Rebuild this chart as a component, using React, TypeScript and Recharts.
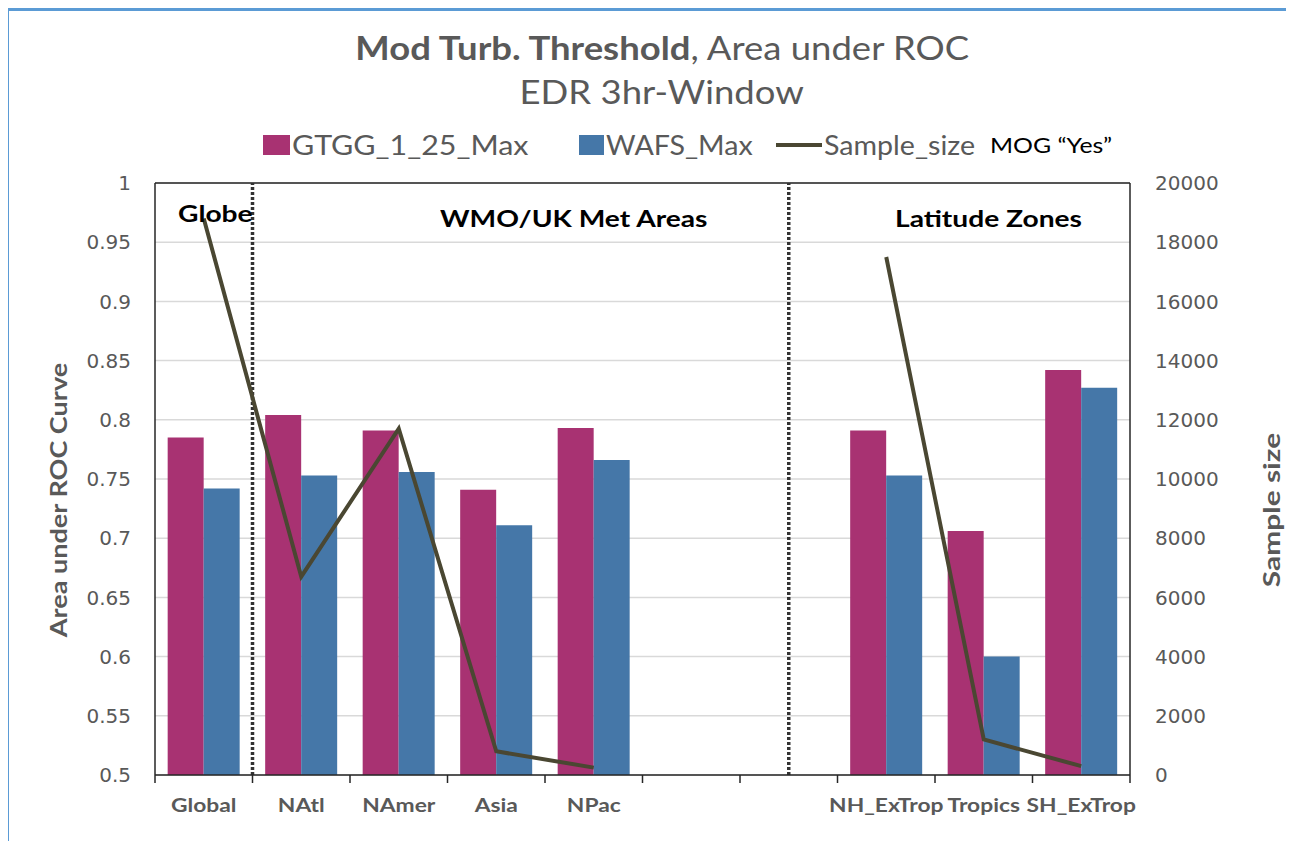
import { ComposedChart, Bar, Line, XAxis, YAxis, CartesianGrid, ReferenceLine } from 'recharts'

const categories = ['Global', 'NAtl', 'NAmer', 'Asia', 'NPac', 'gapA', 'gapB', 'NH_ExTrop', 'Tropics', 'SH_ExTrop']
const gtggMax = [0.785, 0.804, 0.791, 0.741, 0.793, null, null, 0.791, 0.706, 0.842]
const wafsMax = [0.742, 0.753, 0.756, 0.711, 0.766, null, null, 0.753, 0.6, 0.827]
const sampleSize = [18800, 6700, 11700, 800, 250, null, null, 17500, 1200, 300]

const leftTicks = [0.5, 0.55, 0.6, 0.65, 0.7, 0.75, 0.8, 0.85, 0.9, 0.95, 1]
const rightTicks = [0, 2000, 4000, 6000, 8000, 10000, 12000, 14000, 16000, 18000, 20000]

const data = categories.map((name, i) => ({
  name,
  gtgg: gtggMax[i],
  wafs: wafsMax[i],
  sample: sampleSize[i],
}))

const PINK = '#a83272'
const BLUE = '#4577a8'
const LINE = '#4a4732'
const GREY = '#595959'
const BORDER = '#262626'

const W = 1286
const H = 833
const TICK_SIZE = 8
const TICK_MARGIN = 13

function CategoryTick(props: any) {
  const { x, y, payload, index } = props
  const half = payload?.offset ?? 48.75
  const axisY = y - TICK_SIZE - TICK_MARGIN
  const label = String(payload.value).startsWith('gap') ? '' : payload.value
  return (
    <g>
      <line x1={x - half} x2={x - half} y1={axisY} y2={axisY + TICK_SIZE} stroke={BORDER} strokeWidth={1.5} />
      {index === categories.length - 1 && (
        <line x1={x + half} x2={x + half} y1={axisY} y2={axisY + TICK_SIZE} stroke={BORDER} strokeWidth={1.5} />
      )}
      <text
        transform={`translate(${x},${y}) scale(1.2,1)`}
        dy="0.85em"
        textAnchor="middle"
        fill={GREY}
        fontSize={19}
        fontWeight="bold"
        fontFamily="Lato"
      >
        {label}
      </text>
    </g>
  )
}

const numTick = { fill: GREY, fontSize: 20, fontFamily: 'DejaVu Sans' }

const legendText = (left: number, scale: number, extra: any = {}) => ({
  position: 'absolute' as const,
  left,
  top: 122,
  fontSize: 26,
  lineHeight: '30px',
  whiteSpace: 'nowrap' as const,
  transform: `scaleX(${scale})`,
  transformOrigin: 'left center',
  ...extra,
})

const note = (left: number, top: number) => ({
  position: 'absolute' as const,
  left,
  top,
  fontSize: 22,
  fontWeight: 'bold' as const,
  color: '#000',
  whiteSpace: 'nowrap' as const,
  transform: 'scaleX(1.28)',
  transformOrigin: 'left center',
})

export default function App() {
  return (
    <div
      style={{
        position: 'relative',
        marginLeft: -1,
        width: W + 1,
        height: H - 2,
        borderLeft: '2px solid #5b9bd5',
        borderTop: '3px solid #5b9bd5',
        overflow: 'visible',
      }}
    >
      <div style={{ position: 'absolute', left: -1, top: -3, width: W, height: H, fontFamily: 'Lato', color: GREY }}>
        <div style={{ position: 'absolute', left: 11, top: 18, width: W, textAlign: 'center', fontSize: 32, lineHeight: '44px' }}>
          <div style={{ display: 'inline-block', transform: 'scaleX(1.14)', whiteSpace: 'nowrap' }}>
            <b>Mod Turb. Threshold</b>, Area under ROC
          </div>
          <br />
          <div style={{ display: 'inline-block', transform: 'scaleX(1.14)', whiteSpace: 'nowrap' }}>EDR 3hr-Window</div>
        </div>

        <span style={{ position: 'absolute', left: 255, top: 127, width: 27, height: 20, background: PINK }} />
        <span style={legendText(284, 1.17)}>GTGG_1_25_Max</span>
        <span style={{ position: 'absolute', left: 571, top: 127, width: 25, height: 20, background: BLUE }} />
        <span style={legendText(598, 1.1)}>WAFS_Max</span>
        <span style={{ position: 'absolute', left: 768, top: 135, width: 46, height: 4, background: LINE }} />
        <span style={legendText(816, 1.1)}>Sample_size</span>
        <span style={legendText(982, 1.13, { fontSize: 22, color: '#000' })}>MOG “Yes”</span>

        <ComposedChart
          width={W}
          height={H}
          data={data}
          margin={{ top: 175, right: 14, bottom: 16, left: 37 }}
          barCategoryGap="13%"
          barGap={0}
        >
          <CartesianGrid yAxisId="l" vertical={false} stroke="#d9d9d9" strokeWidth={1.5} />
          <XAxis
            dataKey="name"
            interval={0}
            height={50}
            tickLine={false}
            tickSize={TICK_SIZE}
            tickMargin={TICK_MARGIN}
            tick={<CategoryTick />}
            axisLine={{ stroke: BORDER, strokeWidth: 1.5 }}
          />
          <YAxis
            yAxisId="l"
            domain={[0.5, 1]}
            ticks={leftTicks}
            width={110}
            tickLine={false}
            tickSize={0}
            tickMargin={24}
            tick={numTick}
            axisLine={{ stroke: BORDER, strokeWidth: 1.5 }}
          />
          <YAxis
            yAxisId="r"
            orientation="right"
            domain={[0, 20000]}
            ticks={rightTicks}
            width={150}
            tickLine={false}
            tickSize={0}
            tickMargin={25}
            tick={{ ...numTick, textAnchor: 'start' }}
            axisLine={{ stroke: BORDER, strokeWidth: 1.5 }}
          />
          <ReferenceLine yAxisId="l" y={1} stroke={BORDER} strokeWidth={1.5} />
          <Bar yAxisId="l" dataKey="gtgg" fill={PINK} isAnimationActive={false} />
          <Bar yAxisId="l" dataKey="wafs" fill={BLUE} isAnimationActive={false} />
          <ReferenceLine yAxisId="l" x="NAtl" position="start" stroke="#333" strokeWidth={3.5} strokeDasharray="3 2" />
          <ReferenceLine yAxisId="l" x="gapB" position="middle" stroke="#333" strokeWidth={3.5} strokeDasharray="3 2" />
          <Line yAxisId="r" type="linear" dataKey="sample" stroke={LINE} strokeWidth={4} dot={false} connectNulls={false} isAnimationActive={false} />
        </ComposedChart>

        <div style={{ position: 'absolute', left: 50, top: 492, fontSize: 22, fontWeight: 'bold', whiteSpace: 'nowrap', transform: 'translate(-50%,-50%) rotate(-90deg) scaleX(1.23)' }}>
          Area under ROC Curve
        </div>
        <div style={{ position: 'absolute', left: 1263, top: 502, fontSize: 23, fontWeight: 'bold', whiteSpace: 'nowrap', transform: 'translate(-50%,-50%) rotate(-90deg) scaleX(1.3)' }}>
          Sample size
        </div>

        <div style={note(170, 192)}>Globe</div>
        <div style={note(432, 197)}>WMO/UK Met Areas</div>
        <div style={note(887, 197)}>Latitude Zones</div>
      </div>
    </div>
  )
}
